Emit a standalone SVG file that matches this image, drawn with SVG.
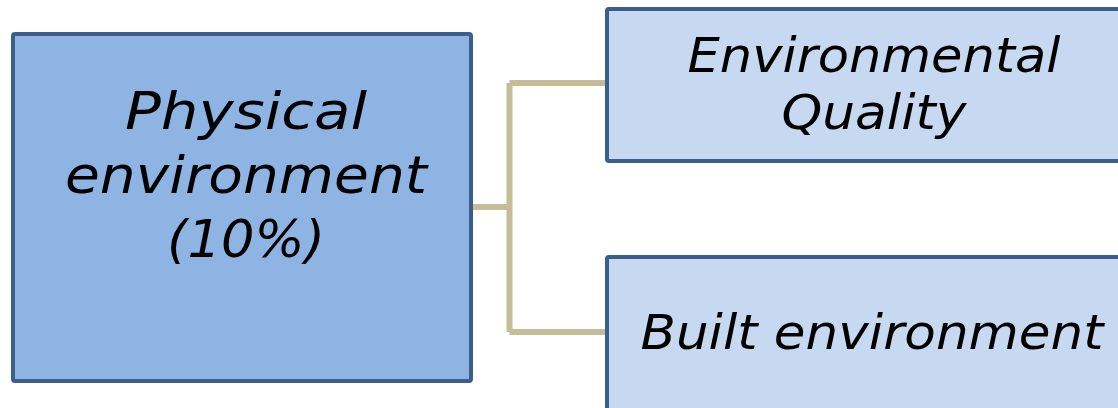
<svg xmlns="http://www.w3.org/2000/svg" width="1118" height="408" viewBox="0 0 1118 408">
<style>
.lbl{font-family:"DejaVu Sans","Verdana",sans-serif;font-style:italic;fill:#000;text-anchor:middle}
.main{fill:#8EB4E3;stroke:#3B5E8C;stroke-width:4}
.sub{fill:#C6D9F1;stroke:#3B5E8C;stroke-width:4}
.conn{fill:none;stroke:#C4BD97;stroke-width:6}
</style>
<rect width="1118" height="408" fill="#FFFFFF"/>
<g id="connectors">
<path class="conn" d="M471,207 H509.5 M509.5,83 V332 M509.5,83 H606 M509.5,332 H606"/>
</g>
<g id="physical">
<rect class="main" x="13" y="34" width="458" height="347" rx="2"/>
<text class="lbl" font-size="51" x="246" y="129" textLength="242" lengthAdjust="spacingAndGlyphs">Physical</text>
<text class="lbl" font-size="51" x="246" y="193" textLength="362" lengthAdjust="spacingAndGlyphs">environment</text>
<text class="lbl" font-size="51" x="246" y="257" textLength="158" lengthAdjust="spacingAndGlyphs">(10%)</text>
</g>
<g id="envquality">
<rect class="sub" x="607" y="9" width="540" height="152" rx="2"/>
<text class="lbl" font-size="48" x="874" y="72" textLength="373" lengthAdjust="spacingAndGlyphs">Environmental</text>
<text class="lbl" font-size="48" x="874" y="129" textLength="185" lengthAdjust="spacingAndGlyphs">Quality</text>
</g>
<g id="built">
<rect class="sub" x="607" y="257" width="540" height="160" rx="2"/>
<text class="lbl" font-size="48" x="872" y="349" textLength="463" lengthAdjust="spacingAndGlyphs">Built environment</text>
</g>
</svg>
